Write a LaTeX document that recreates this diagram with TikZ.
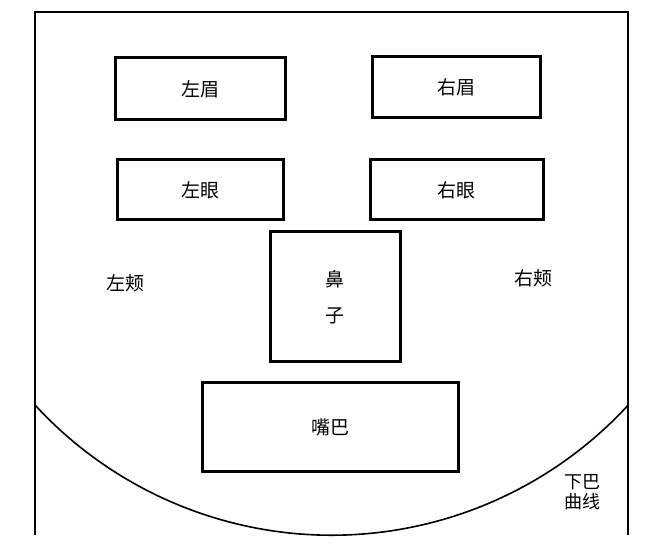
\documentclass[tikz,border=0pt]{standalone}
\usepackage{fontspec}
\newfontfamily\cjk{Noto Sans CJK SC}
\begin{document}
\begin{tikzpicture}[
    x=1pt, y=1pt,
    part/.style={draw, line width=3pt, font=\cjk\fontsize{19}{24}\selectfont, inner sep=0pt},
    label/.style={font=\cjk\fontsize{19}{24}\selectfont, align=center}
  ]
  \useasboundingbox (0,0) rectangle (656,549);
  % outline of the face
  \draw[line width=2pt] (35,14) -- (35,537) -- (628,537) -- (628,14);
  \draw[line width=1.6pt] (35,144) arc[start angle=222.6, end angle=317.4, radius=403];

  \node[part, minimum width=170, minimum height=62] (browl) at (200,460) {左眉};
  \node[part, minimum width=168, minimum height=61] (browr) at (456,461.5) {右眉};
  \node[part, minimum width=166, minimum height=60] (eyel) at (200,359) {左眼};
  \node[part, minimum width=173, minimum height=60] (eyer) at (456.5,359) {右眼};
  \node[part, minimum width=130, minimum height=130, align=center] (nose) at (335,252) {鼻\\[12pt]子};
  \node[part, minimum width=256, minimum height=89] (mouth) at (330,121.5) {嘴巴};

  \node[label] (cheekl) at (125,266) {左颊};
  \node[label] (cheekr) at (533,271) {右颊};
  \node[label, font=\cjk\fontsize{18}{20}\selectfont] (chin) at (582,57) {下巴\\曲线};
\end{tikzpicture}
\end{document}
